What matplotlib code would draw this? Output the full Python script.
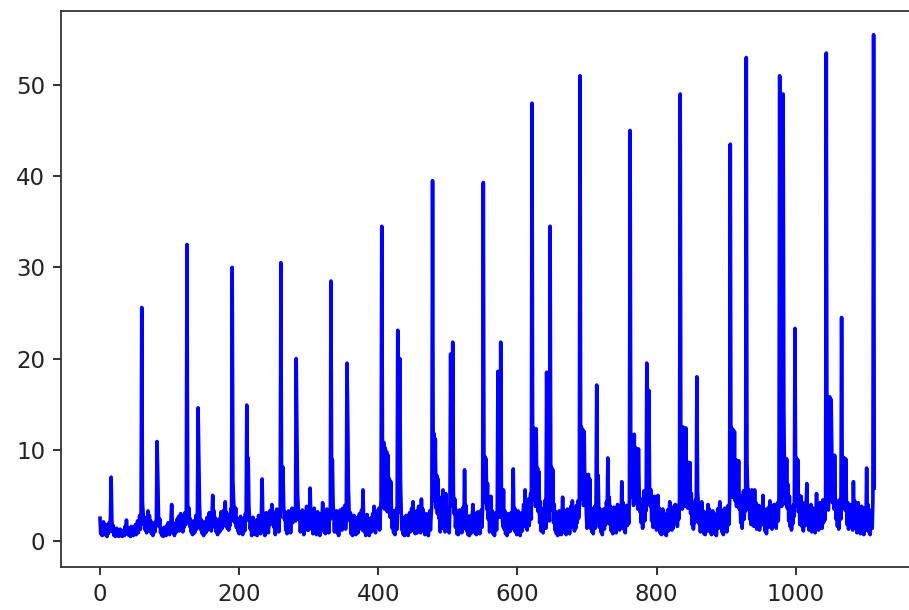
import numpy as np
import matplotlib
matplotlib.use("Agg")
import matplotlib.pyplot as plt

# Values, 100 samples per block (index 0..1113)
seg_0000 = [2.5, 0.8, 1.9, 0.6, 1.2, 2.1, 0.7, 1.5, 0.9, 1.8,
            0.5, 1.3, 0.8, 2.0, 1.1, 2.6, 7.0, 2.4, 1.0, 1.7,
            0.6, 1.2, 0.5, 0.9, 1.4, 0.6, 1.1, 0.5, 0.8, 1.3,
            0.6, 1.0, 0.5, 0.7, 1.2, 0.6, 1.6, 0.9, 2.3, 1.2,
            0.7, 1.4, 0.6, 1.0, 0.5, 1.6, 0.8, 1.2, 0.6, 1.5,
            1.0, 1.8, 0.7, 1.4, 2.2, 0.9, 1.7, 2.8, 1.3, 2.4,
            25.6, 4.3, 3.0, 1.8, 2.6, 1.2, 2.2, 0.9, 1.9, 3.3,
            1.5, 2.8, 1.1, 2.2, 0.8, 1.6, 0.6, 1.3, 2.0, 1.0,
            1.8, 2.5, 10.9, 7.3, 3.0, 1.6, 2.4, 0.9, 1.3, 0.6,
            1.0, 0.5, 1.5, 0.8, 1.2, 0.6, 1.7, 1.0, 2.0, 1.1]
seg_0100 = [0.7, 1.6, 2.3, 4.0, 1.8, 0.9, 1.4, 0.6, 1.2, 2.0,
            1.0, 2.4, 1.3, 2.7, 1.1, 1.9, 3.0, 1.4, 2.2, 1.0,
            2.6, 1.5, 3.1, 1.8, 2.9, 32.5, 4.2, 2.6, 3.6, 1.6,
            2.4, 1.0, 1.8, 0.7, 1.4, 2.2, 0.9, 1.6, 2.8, 1.3,
            3.0, 14.6, 9.3, 4.1, 2.0, 1.2, 2.3, 0.8, 1.5, 0.6,
            1.3, 2.1, 0.9, 1.7, 2.6, 1.2, 2.0, 3.1, 1.4, 2.4,
            1.1, 2.9, 5.0, 2.2, 3.3, 1.5, 2.5, 1.0, 1.8, 0.7,
            1.5, 2.4, 1.0, 2.0, 3.2, 1.3, 2.6, 1.6, 3.4, 2.0,
            4.3, 2.3, 3.1, 1.4, 2.5, 1.2, 2.9, 1.7, 3.5, 2.2,
            30.0, 6.7, 4.5, 3.2, 2.0, 3.6, 1.5, 2.5, 1.1, 1.9]
seg_0200 = [0.8, 1.6, 2.7, 1.2, 2.1, 0.7, 1.4, 2.5, 1.1, 3.0,
            2.2, 14.9, 6.5, 9.1, 3.8, 2.4, 1.3, 2.0, 0.6, 1.5,
            2.6, 0.9, 1.9, 0.7, 1.3, 2.3, 0.6, 1.7, 2.8, 1.4,
            2.2, 0.8, 3.0, 6.8, 2.6, 1.5, 2.4, 0.6, 1.8, 3.1,
            1.6, 2.5, 0.9, 2.2, 3.3, 1.8, 2.7, 4.0, 2.1, 3.2,
            1.5, 2.6, 0.7, 2.3, 3.5, 1.9, 2.8, 1.0, 3.4, 2.6,
            30.5, 5.5, 3.4, 8.1, 3.9, 2.4, 3.2, 1.2, 2.6, 0.8,
            2.2, 3.3, 1.7, 2.8, 0.9, 2.5, 3.6, 2.0, 3.0, 2.4,
            3.5, 2.2, 20.0, 11.8, 5.2, 3.6, 2.3, 3.2, 1.0, 2.7,
            1.8, 3.4, 2.2, 0.7, 2.9, 1.6, 2.5, 3.8, 1.2, 3.1]
seg_0300 = [1.2, 2.6, 5.8, 2.9, 1.8, 3.0, 0.8, 2.4, 3.6, 1.9,
            2.8, 0.7, 2.2, 3.2, 1.6, 2.5, 0.6, 1.9, 3.0, 2.2,
            4.2, 2.6, 1.0, 2.8, 0.8, 2.3, 3.5, 1.7, 2.7, 0.9,
            3.0, 2.4, 28.5, 5.0, 8.9, 4.2, 2.8, 1.0, 3.1, 2.0,
            3.3, 0.9, 2.6, 0.6, 2.2, 3.4, 1.8, 2.9, 1.2, 3.6,
            1.6, 2.7, 3.9, 1.3, 3.0, 19.5, 14.0, 6.0, 3.5, 2.2,
            3.1, 0.8, 2.5, 0.6, 1.9, 2.8, 1.0, 2.3, 0.7, 1.7,
            2.6, 0.9, 2.2, 3.0, 1.6, 2.5, 3.4, 1.2, 5.6, 2.6,
            1.0, 2.4, 0.6, 1.8, 2.9, 0.8, 2.1, 0.6, 1.6, 2.5,
            1.0, 2.2, 3.0, 1.2, 3.8, 2.4, 0.9, 2.8, 3.3, 1.5]
seg_0400 = [2.5, 3.6, 1.2, 3.1, 4.4, 34.5, 11.0, 4.2, 10.8, 3.5,
            10.2, 5.0, 9.8, 3.2, 9.4, 4.1, 6.8, 2.6, 6.5, 3.4,
            1.4, 3.3, 0.9, 2.8, 0.7, 2.4, 3.5, 1.3, 23.1, 5.0,
            3.2, 20.0, 6.3, 3.1, 1.2, 2.6, 0.7, 2.3, 0.6, 1.7,
            2.8, 0.8, 2.4, 0.6, 2.0, 3.1, 1.0, 2.7, 3.6, 1.5,
            4.3, 1.1, 3.0, 0.8, 2.4, 3.3, 0.9, 2.6, 3.8, 1.6,
            3.2, 0.9, 4.6, 2.5, 3.5, 1.2, 2.8, 0.7, 2.2, 3.0,
            1.1, 2.6, 0.6, 2.0, 3.3, 1.2, 2.9, 4.0, 39.5, 6.5,
            11.8, 4.4, 11.2, 3.6, 7.2, 3.0, 6.8, 2.5, 3.8, 1.0,
            2.9, 4.8, 1.4, 5.6, 2.6, 3.7, 1.0, 5.2, 2.4, 3.3]
seg_0500 = [1.3, 3.6, 0.9, 4.0, 20.5, 5.5, 3.8, 21.8, 5.5, 3.0,
            4.6, 1.5, 3.4, 0.8, 2.7, 0.7, 2.2, 3.4, 1.2, 2.9,
            0.9, 2.5, 3.7, 1.4, 7.8, 2.8, 3.9, 1.1, 2.8, 0.7,
            2.3, 0.6, 1.9, 2.8, 0.9, 2.5, 4.0, 1.3, 3.1, 0.9,
            2.6, 0.7, 2.1, 3.2, 1.0, 2.7, 0.8, 2.4, 3.4, 1.5,
            3.7, 39.3, 5.8, 9.3, 4.2, 9.0, 3.5, 6.3, 2.4, 3.6,
            1.0, 2.8, 4.9, 1.3, 3.3, 0.8, 2.5, 0.6, 2.3, 3.1,
            1.2, 3.0, 18.6, 4.5, 3.5, 2.6, 21.8, 5.9, 3.4, 1.6,
            5.6, 1.3, 3.3, 0.8, 2.5, 0.6, 2.1, 3.0, 1.0, 2.8,
            1.1, 3.1, 1.4, 3.5, 7.9, 1.8, 3.6, 1.0, 2.6, 0.7]
seg_0600 = [2.2, 3.3, 0.9, 2.5, 0.6, 2.0, 3.1, 1.1, 2.8, 4.0,
            1.6, 5.6, 2.0, 3.7, 1.2, 3.0, 4.6, 1.7, 3.5, 5.2,
            2.4, 48.0, 6.2, 12.4, 4.5, 12.1, 3.8, 12.3, 5.0, 8.0,
            3.2, 7.6, 2.0, 4.3, 1.1, 3.4, 1.8, 0.9, 3.6, 2.0,
            4.5, 1.4, 18.5, 5.2, 3.9, 7.5, 2.2, 34.5, 5.0, 8.1,
            3.4, 7.8, 2.0, 4.0, 1.2, 3.2, 0.8, 2.5, 0.6, 2.2,
            3.3, 1.0, 2.8, 0.7, 2.4, 4.8, 1.4, 3.4, 0.9, 2.7,
            0.7, 2.3, 3.5, 1.2, 3.0, 0.8, 2.6, 3.8, 1.5, 4.4,
            1.8, 3.6, 1.1, 3.0, 1.4, 3.9, 2.0, 4.4, 2.5, 3.6,
            51.0, 6.8, 12.5, 4.6, 12.2, 3.9, 12.0, 4.5, 7.3, 3.1]
seg_0700 = [1.4, 3.4, 7.3, 2.0, 6.8, 1.4, 3.6, 1.0, 2.9, 0.8,
            2.5, 3.8, 1.4, 4.2, 17.1, 5.0, 7.2, 3.3, 1.5, 3.5,
            1.0, 2.8, 0.7, 2.4, 3.5, 1.3, 3.2, 1.8, 4.3, 2.8,
            9.1, 3.5, 4.8, 1.8, 3.8, 1.1, 3.0, 0.8, 2.6, 3.7,
            1.4, 3.2, 0.9, 2.8, 4.0, 1.6, 3.6, 1.2, 3.0, 1.8,
            6.5, 2.2, 4.2, 1.3, 3.4, 0.9, 2.7, 3.9, 1.7, 3.5,
            1.9, 4.6, 45.0, 7.0, 11.6, 4.8, 11.5, 3.9, 11.7, 5.2,
            10.2, 4.4, 10.0, 3.5, 10.1, 5.5, 3.2, 4.6, 2.0, 4.0,
            1.4, 3.5, 5.5, 2.2, 4.2, 3.3, 19.5, 6.0, 4.5, 16.5,
            5.5, 3.8, 5.6, 2.2, 4.5, 1.5, 3.6, 4.9, 1.9, 3.8]
seg_0800 = [1.2, 3.2, 5.0, 1.7, 3.6, 0.9, 2.8, 0.7, 2.4, 3.5,
            1.3, 3.0, 0.8, 2.6, 0.6, 2.2, 3.4, 1.1, 2.9, 4.3,
            1.8, 3.6, 1.2, 3.1, 1.4, 3.8, 2.0, 4.0, 2.3, 3.7,
            1.6, 3.9, 2.4, 4.6, 49.0, 6.5, 4.8, 3.5, 12.5, 4.6,
            12.2, 3.8, 12.4, 5.0, 8.7, 3.6, 8.5, 4.2, 8.6, 3.0,
            5.2, 1.8, 4.0, 1.3, 3.3, 2.0, 4.5, 3.2, 18.0, 5.5,
            4.0, 1.9, 3.4, 1.0, 2.9, 4.3, 1.6, 3.3, 0.8, 2.6,
            0.7, 2.3, 3.2, 1.1, 4.0, 1.7, 3.5, 1.0, 2.8, 0.7,
            2.4, 3.3, 1.2, 3.0, 0.8, 2.6, 0.6, 2.2, 3.5, 1.4,
            3.2, 4.3, 1.5, 3.4, 1.0, 2.9, 0.7, 2.5, 3.6, 1.6]
seg_0900 = [3.0, 1.0, 2.7, 3.9, 1.8, 4.2, 43.5, 6.0, 12.4, 4.8,
            12.2, 5.1, 12.0, 4.4, 8.9, 3.8, 8.7, 4.5, 8.8, 3.5,
            5.0, 2.0, 4.1, 1.4, 3.5, 5.5, 2.4, 4.6, 3.3, 53.0,
            8.5, 5.5, 3.9, 5.6, 2.4, 4.4, 1.8, 5.6, 2.6, 4.5,
            1.6, 5.6, 2.4, 4.2, 1.3, 3.4, 1.9, 3.9, 1.2, 3.0,
            1.7, 3.6, 2.2, 5.0, 1.8, 3.5, 1.1, 2.9, 0.8, 2.6,
            3.6, 1.5, 3.3, 4.4, 1.9, 3.8, 1.3, 3.1, 1.8, 4.0,
            2.1, 3.6, 1.4, 3.2, 4.2, 2.2, 4.8, 51.0, 6.2, 4.6,
            3.8, 5.5, 49.0, 14.4, 6.5, 9.1, 4.0, 9.0, 3.6, 6.2,
            2.2, 4.9, 1.6, 3.7, 1.2, 3.2, 1.9, 4.0, 2.7, 23.3]
seg_1000 = [5.5, 9.1, 3.8, 8.9, 3.2, 5.0, 1.8, 3.6, 4.9, 1.6,
            3.4, 1.1, 2.8, 4.2, 1.7, 3.5, 6.3, 2.0, 3.9, 1.2,
            3.1, 1.6, 4.0, 1.0, 2.8, 3.6, 1.4, 3.3, 0.9, 2.6,
            5.2, 1.8, 3.7, 1.2, 3.0, 4.2, 1.8, 3.6, 1.4, 4.5,
            2.0, 3.9, 2.3, 4.8, 53.5, 6.5, 4.2, 3.4, 5.0, 15.8,
            6.0, 15.5, 9.5, 4.2, 9.3, 3.5, 9.4, 4.6, 2.4, 4.4,
            1.6, 3.8, 1.3, 3.5, 4.6, 2.4, 24.5, 5.5, 9.2, 4.0,
            9.1, 3.4, 9.0, 3.8, 1.8, 4.2, 1.3, 3.3, 1.9, 4.0,
            1.6, 3.6, 1.2, 6.5, 2.2, 4.4, 1.4, 3.5, 0.9, 2.8,
            4.2, 1.4, 3.3, 0.8, 2.6, 3.8, 1.3, 3.1, 0.7, 2.5]
seg_1100 = [3.6, 1.2, 8.0, 2.0, 4.0, 1.0, 2.9, 0.7, 2.3, 3.4,
            1.4, 4.5, 55.5, 5.8]

values = np.array(seg_0000 + seg_0100 + seg_0200 + seg_0300 + seg_0400 +
                  seg_0500 + seg_0600 + seg_0700 + seg_0800 + seg_0900 +
                  seg_1000 + seg_1100)
x = np.arange(len(values))

fig = plt.figure(figsize=(9.09, 6.10), dpi=100)
ax = fig.add_axes([61.3 / 909, 43 / 610, (913 - 61.3) / 909, (599 - 43) / 610])
ax.plot(x, values, color="blue", lw=2.6)
ax.set_xlim(-0.05 * (len(values) - 1), 1.05 * (len(values) - 1))
ax.set_ylim(-2.85, 58.1)
ax.set_xticks([0, 200, 400, 600, 800, 1000])
ax.set_yticks([0, 10, 20, 30, 40, 50])
ax.tick_params(labelsize=16.5, length=5.8, width=1.3, pad=5.8, colors="#222222")
for s in ax.spines.values():
    s.set_linewidth(1.3)
    s.set_color("#333333")
ax.spines["right"].set_visible(False)
fig.savefig("out.png", dpi=100)
